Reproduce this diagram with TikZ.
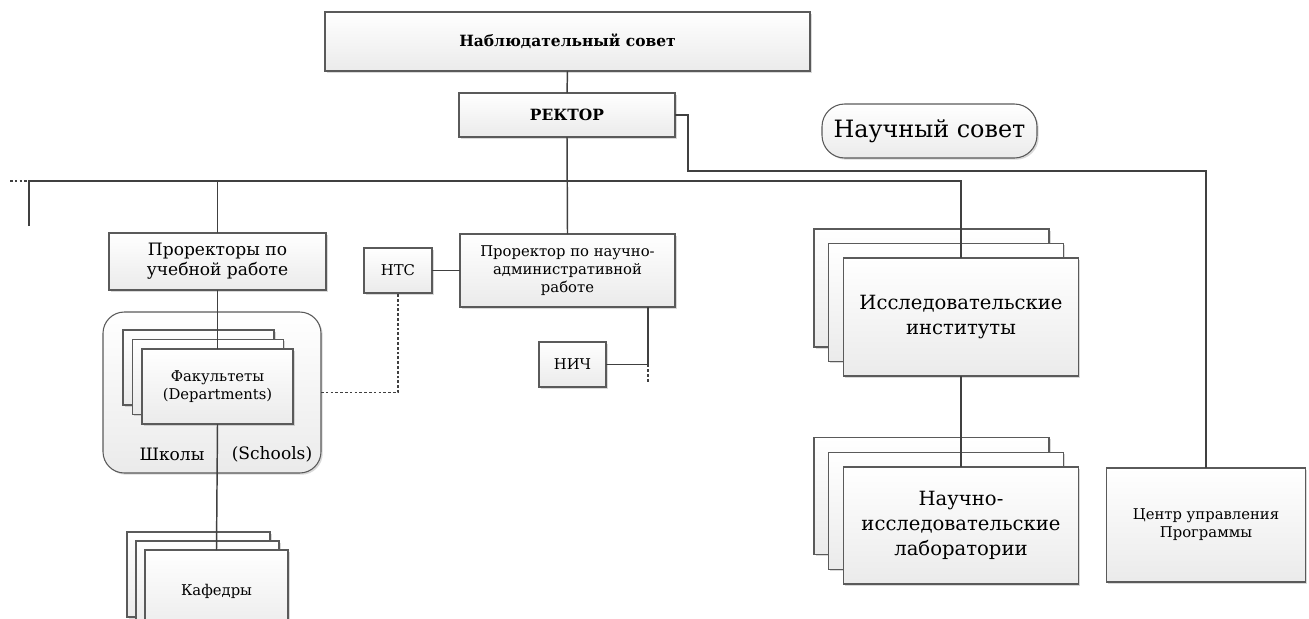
\documentclass[tikz,border=0pt]{standalone}
\usepackage{fontspec}
\setmainfont{DejaVu Serif}
\usetikzlibrary{shadows,calc}
\definecolor{ln}{HTML}{404040}
\definecolor{bd}{HTML}{5A5A5A}
\newcommand\fsBold{\fontsize{11.6}{13}\selectfont\bfseries}
\newcommand\fsM{\fontsize{11.1}{13.5}\selectfont}
\newcommand\fsL{\fontsize{12.8}{15}\selectfont}
\newcommand\fsBig{\fontsize{14.7}{18.6}\selectfont}
\newcommand\fsX{\fontsize{17.9}{20}\selectfont}
\tikzset{
 box/.style={draw=bd, line width=0.8pt, top color=white, bottom color=gray!16,
   drop shadow={shadow xshift=1.3pt, shadow yshift=-1.3pt, opacity=0.3, fill=gray},
   inner sep=0pt, outer sep=0pt, align=center, font=\fsM},
 sz/.style 2 args={minimum width=#1*0.75pt, minimum height=#2*0.75pt},
 conn/.style={draw=ln, line width=1.1pt},
 dotln/.style={draw=ln, line width=1.1pt, dash pattern=on 2pt off 1.6pt},
}
\begin{document}
\begin{tikzpicture}[x=0.75pt,y=-0.75pt]
\useasboundingbox (0,0) rectangle (1309,618);
% top
\node[box,sz={485}{59},font=\fsBold] (nab) at (567.5,41.5) {Наблюдательный совет};
\node[box,sz={216}{44},font=\fsBold] (rek) at (567,115) {РЕКТОР};
\node[box,sz={215}{54},rounded corners=17pt,font=\fsX] (ns) at (929.5,131) {Научный совет};
% left branch
\node[box,sz={217}{57},font=\fsL] (proU) at (217.5,261.5) {Проректоры по\\учебной работе};
\node[box,sz={218}{161},rounded corners=16pt] (shk) at (212,392.5) {};
\node[font=\fsL] (shkA) at (172,454) {Школы};
\node[font=\fsL] (shkB) at (272,454) {(Schools)};
\node[box,sz={151}{75}] (fakB1) at (198.5,367.5) {};
\node[box,sz={151}{75}] (fakB2) at (208,377) {};
\node[box,sz={151}{75}] (fak) at (217.5,386.5) {Факультеты\\(Departments)};
\node[box,sz={143}{85}] (kafB1) at (198.5,574.5) {};
\node[box,sz={143}{85}] (kafB2) at (207.5,583.5) {};
\node[box,sz={143}{85}] (kaf) at (216.5,592.5) {\raisebox{3.5pt}{Кафедры}};
% middle
\node[box,sz={68}{45}] (nts) at (398,270.5) {НТС};
\node[box,sz={215}{73}] (proN) at (567.5,270.5) {Проректор по научно-\\административной\\работе};
\node[box,sz={67}{45}] (nich) at (572.5,364.5) {НИЧ};
% right
\node[box,sz={235}{118}] (insB1) at (931.5,288) {};
\node[box,sz={235}{118}] (insB2) at (946,302.5) {};
\node[box,sz={235}{118},font=\fsBig] (ins) at (961,317) {Исследовательские\\институты};
\node[box,sz={235}{117}] (nilB1) at (931.5,496) {};
\node[box,sz={235}{117}] (nilB2) at (946,511) {};
\node[box,sz={235}{117},font=\fsBig] (nil) at (961,525.5) {Научно-\\исследовательские\\лаборатории};
\node[box,sz={199}{114}] (cen) at (1206,525) {Центр управления\\Программы};
% coordinates
\coordinate (busL) at (29,181);
\coordinate (busLend) at (10,181);
\coordinate (busLdown) at (29,226);
\coordinate (rt1) at (688,171);
\coordinate (nichturn) at (648,364.5);
\coordinate (nichend) at (648,383);
% connectors
\draw[conn] (nab.south) -- (rek.north);
\draw[conn] (rek.south) -- (proN.north);
\draw[conn] (busLdown) -- (busL) -| (ins.north);
\draw[dotln] (busLend) -- (busL);
\draw[conn] (proU.north |- busL) -- (proU.north);
\draw[conn] (proU.south) -- (fak.north);
\draw[conn] (fak.south) -- (kaf.north);
\draw[dotln] (shk.east) -| (nts.south);
\draw[conn] (nts.east) -- (proN.west);
\draw[conn] (proN.south -| nichturn) -- (nichturn) -- (nich.east);
\draw[dotln] (nichturn) -- (nichend);
\draw[conn] (rek.east) -| (rt1) -| (cen.north);
\draw[conn] (ins.south) -- (nil.north);
\end{tikzpicture}
\end{document}
